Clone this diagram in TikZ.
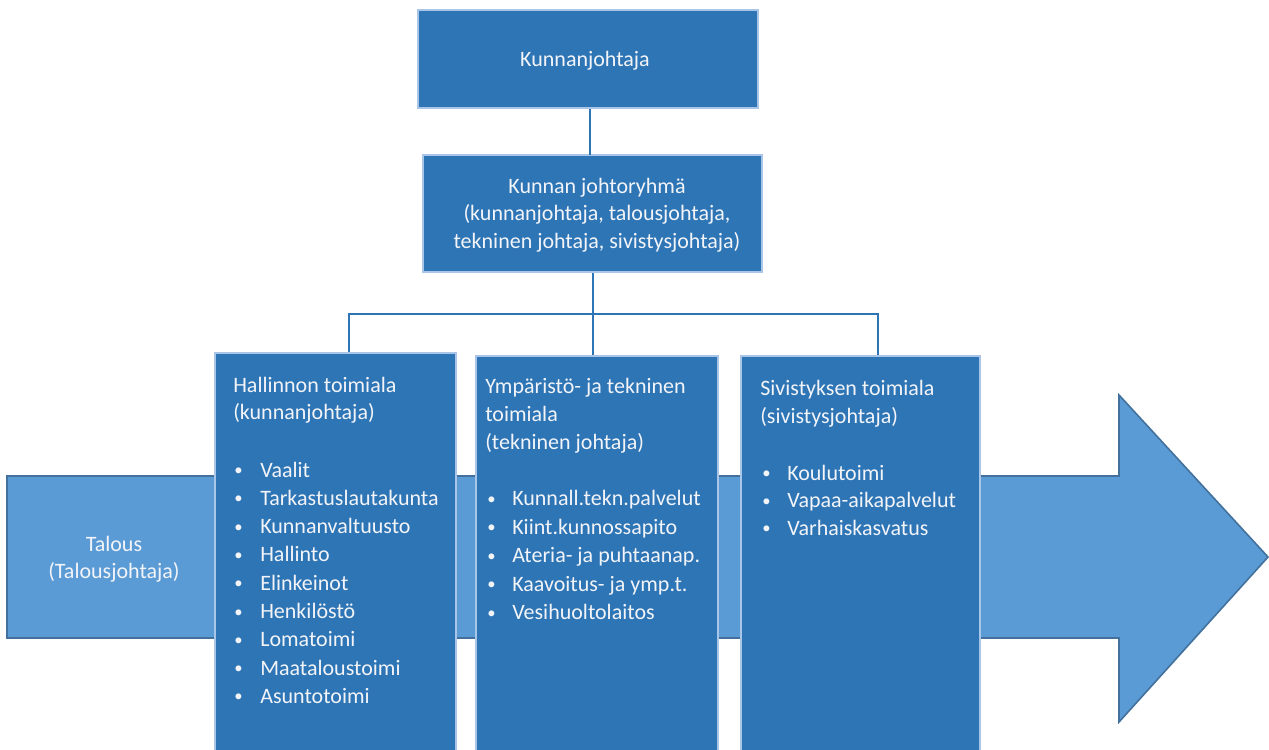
\documentclass[tikz,border=0pt]{standalone}
\usepackage{fontspec}
\setmainfont{Carlito}
\definecolor{boxfill}{HTML}{2E75B6}
\definecolor{boxedge}{HTML}{A9C6E8}
\definecolor{arrfill}{HTML}{5B9BD5}
\definecolor{arredge}{HTML}{41719C}
\definecolor{linecol}{HTML}{2E75B6}
\definecolor{txtcol}{HTML}{F2F4F8}
\tikzset{
  box/.style={draw=boxedge, line width=1.6pt, fill=boxfill, inner sep=0pt},
  txt/.style={text=txtcol, inner sep=0pt, anchor=base west, font=\fontsize{16.5}{20}\selectfont},
  bul/.style={text=txtcol, inner sep=0pt, anchor=base west, font=\fontsize{12.5}{15}\selectfont},
  ctxt/.style={text=txtcol, inner sep=0pt, anchor=base, font=\fontsize{16.5}{20}\selectfont},
  conn/.style={draw=linecol, line width=2.2pt},
}
\begin{document}
\begin{tikzpicture}[x=0.75pt,y=-0.75pt]
\useasboundingbox (0,0) rectangle (1269,749);
\clip (0,0) rectangle (1269,749);
% big arrow
\draw[fill=arrfill, draw=arredge, line width=1.2pt, line join=miter]
  (7,476) -- (1119,476) -- (1119,395) -- (1268,557) -- (1119,722) -- (1119,638) -- (7,638) -- cycle;
\node[ctxt] (tal1) at (114,551) {Talous};
\node[ctxt] (tal2) at (114,578) {(Talousjohtaja)};
% top boxes
\node[box, minimum width={340*0.75pt}, minimum height={98*0.75pt}] (top) at (588,59) {};
\node[ctxt] (topt) at (585,67) {Kunnanjohtaja};
\node[box, minimum width={339*0.75pt}, minimum height={117*0.75pt}] (mid) at (592.5,213.5) {};
\node[ctxt] (midt1) at (597,193) {Kunnan johtoryhmä};
\node[ctxt] (midt2) at (597,220.5) {(kunnanjohtaja, talousjohtaja,};
\node[ctxt] (midt3) at (597,248) {tekninen johtaja, sivistysjohtaja)};
% department boxes
\node[box, minimum width={241*0.75pt}, minimum height={427*0.75pt}] (b1) at (335.5,566.5) {};
\node[box, minimum width={242*0.75pt}, minimum height={424*0.75pt}] (b2) at (597,568) {};
\node[box, minimum width={239*0.75pt}, minimum height={424*0.75pt}] (b3) at (860.5,568) {};
% connectors
\draw[conn] (top.south -| 590,0) -- (590,155);
\coordinate (j) at (593,314);
\coordinate (c1) at (349,314);
\coordinate (c3) at (878,314);
\draw[conn] (mid.south -| j) -- (j);
\draw[conn] (c1 |- b1.north) -- (c1) -- (c3) -- (c3 |- b3.north);
\draw[conn] (j) -- (j |- b2.north);
% box 1 text
\node[txt] (h1a) at (233,392) {Hallinnon toimiala};
\node[txt] (h1b) at (233,419.5) {(kunnanjohtaja)};
\foreach \t [count=\i] in {Vaalit,Tarkastuslautakunta,Kunnanvaltuusto,Hallinto,Elinkeinot,Henkilöstö,Lomatoimi,Maataloustoimi,Asuntotoimi}{
  \node[bul] (p\i) at (234,{475.5+28.3*(\i-1)}) {•};
  \node[txt] (i\i) at (260,{477+28.3*(\i-1)}) {\t};
}
% box 2 text
\node[txt] (h2a) at (485,393) {Ympäristö- ja tekninen};
\node[txt] (h2b) at (485,421) {toimiala};
\node[txt] (h2c) at (485,449) {(tekninen johtaja)};
\foreach \t [count=\i] in {Kunnall.tekn.palvelut,Kiint.kunnossapito,Ateria- ja puhtaanap.,Kaavoitus- ja ymp.t.,Vesihuoltolaitos}{
  \node[bul] (q\i) at (487,{504+28.5*(\i-1)}) {•};
  \node[txt] (k\i) at (512,{505.5+28.5*(\i-1)}) {\t};
}
% box 3 text
\node[txt] (h3a) at (760,395) {Sivistyksen toimiala};
\node[txt] (h3b) at (760,423) {(sivistysjohtaja)};
\foreach \t [count=\i] in {Koulutoimi,Vapaa-aikapalvelut,Varhaiskasvatus}{
  \node[bul] (r\i) at (762,{478.5+27.5*(\i-1)}) {•};
  \node[txt] (s\i) at (787,{480+27.5*(\i-1)}) {\t};
}
\end{tikzpicture}
\end{document}
